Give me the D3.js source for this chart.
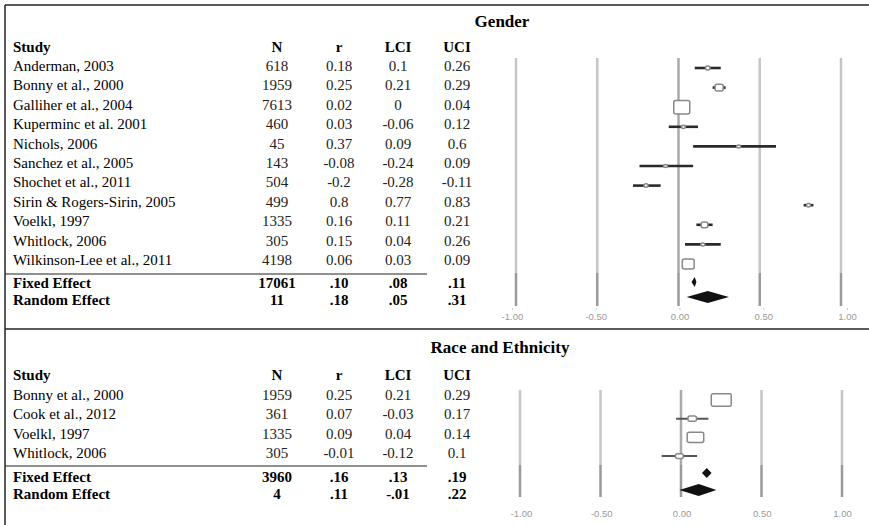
<!DOCTYPE html>
<html>
<head>
<meta charset="utf-8">
<script src="https://cdn.jsdelivr.net/npm/d3@7"></script>
<style>
  body { margin: 0; background: #fff; }
  text { font-family: "Liberation Serif", "Times New Roman", serif; }
</style>
</head>
<body>
<svg id="chart"></svg>
<script>
// ---- data ----
const columns = ["N", "r", "LCI", "UCI"];
const summaryLabels = ["Fixed Effect", "Random Effect"];
const ticks = [-1, -0.5, 0, 0.5, 1];

const genderStudies = ["Anderman, 2003", "Bonny et al., 2000", "Galliher et al., 2004",
  "Kuperminc et al. 2001", "Nichols, 2006", "Sanchez et al., 2005", "Shochet et al., 2011",
  "Sirin & Rogers-Sirin, 2005", "Voelkl, 1997", "Whitlock, 2006", "Wilkinson-Lee et al., 2011"];
const genderN = [618, 1959, 7613, 460, 45, 143, 504, 499, 1335, 305, 4198];
const genderR = [0.18, 0.25, 0.02, 0.03, 0.37, -0.08, -0.2, 0.8, 0.16, 0.15, 0.06];
const genderLCI = [0.1, 0.21, 0, -0.06, 0.09, -0.24, -0.28, 0.77, 0.11, 0.04, 0.03];
const genderUCI = [0.26, 0.29, 0.04, 0.12, 0.6, 0.09, -0.11, 0.83, 0.21, 0.26, 0.09];
const genderSumN = ["17061", "11"];
const genderSumR = [".10", ".18"];
const genderSumLCI = [".08", ".05"];
const genderSumUCI = [".11", ".31"];

const raceStudies = ["Bonny et al., 2000", "Cook et al., 2012", "Voelkl, 1997", "Whitlock, 2006"];
const raceN = [1959, 361, 1335, 305];
const raceR = [0.25, 0.07, 0.09, -0.01];
const raceLCI = [0.21, -0.03, 0.04, -0.12];
const raceUCI = [0.29, 0.17, 0.14, 0.1];
const raceSumN = ["3960", "4"];
const raceSumR = [".16", ".11"];
const raceSumLCI = [".13", "-.01"];
const raceSumUCI = [".19", ".22"];

const width = 869, height = 525;
const colX = [277, 339, 398, 457]; // centres of N, r, LCI, UCI
const studyX = 13;

const svg = d3.select("#chart").attr("width", width).attr("height", height);

// frame lines
function rule(x1, y1, x2, y2, w) {
  svg.append("line")
    .attr("x1", x1).attr("y1", y1).attr("x2", x2).attr("y2", y2)
    .attr("stroke", "#222").attr("stroke-width", w);
}
rule(5, 5, width, 5, 1.5);
rule(5, 5, 5, height, 1.5);
rule(5, 329, width, 329, 1.5);

function drawPanel(p) {
  const g = svg.append("g");

  // title + header
  g.append("text").attr("x", p.titleX).attr("y", p.titleY)
    .attr("text-anchor", "middle").attr("font-weight", "bold").attr("font-size", 17)
    .text(p.title);
  g.append("text").attr("x", studyX).attr("y", p.headerY)
    .attr("font-weight", "bold").attr("font-size", 15).text("Study");
  columns.forEach((c, j) => {
    g.append("text").attr("x", colX[j]).attr("y", p.headerY)
      .attr("text-anchor", "middle").attr("font-weight", "bold").attr("font-size", 15)
      .text(c);
  });

  // study rows (table)
  const textY = i => p.textTop + i * p.textStep + 5;
  p.studies.forEach((s, i) => {
    const vals = [p.n[i], p.r[i], p.lci[i], p.uci[i]];
    g.append("text").attr("x", studyX).attr("y", textY(i)).attr("font-size", 15).text(s);
    vals.forEach((v, j) => {
      g.append("text").attr("x", colX[j]).attr("y", textY(i))
        .attr("text-anchor", "middle").attr("font-size", 15).attr("fill", "#222")
        .text(String(v));
    });
  });

  rule(5, p.lineY, 427, p.lineY, 1.2);

  // summary rows
  summaryLabels.forEach((s, i) => {
    const y = p.sumTextY[i];
    const vals = [p.sumN[i], p.sumR[i], p.sumLCI[i], p.sumUCI[i]];
    g.append("text").attr("x", studyX).attr("y", y)
      .attr("font-weight", "bold").attr("font-size", 15).text(s);
    vals.forEach((v, j) => {
      g.append("text").attr("x", colX[j]).attr("y", y)
        .attr("text-anchor", "middle").attr("font-weight", "bold").attr("font-size", 15)
        .text(v);
    });
  });

  // forest plot
  const x = d3.scaleLinear().domain([-1, 1]).range(p.xRange);

  // grid: light part behind the studies, darker part behind the summaries
  g.selectAll(".gridTop").data(ticks).enter().append("line")
    .attr("x1", d => x(d)).attr("x2", d => x(d))
    .attr("y1", p.gridTop).attr("y2", p.gridSplit)
    .attr("stroke", d => d === 0 ? "#aaa" : "#c6c6c6").attr("stroke-width", 2.5);
  g.selectAll(".gridBot").data(ticks).enter().append("line")
    .attr("x1", d => x(d)).attr("x2", d => x(d))
    .attr("y1", p.gridSplit).attr("y2", p.gridBottom)
    .attr("stroke", "#9a9a9a").attr("stroke-width", 2.5);

  const markY = i => p.markTop + i * p.markStep;
  const box = d3.scaleSqrt().domain([0, d3.max(p.n)]).range([0, p.maxBox]);

  // CI lines
  g.selectAll(".ci").data(p.studies).enter().append("line")
    .attr("x1", (d, i) => x(p.lci[i])).attr("x2", (d, i) => x(p.uci[i]))
    .attr("y1", (d, i) => markY(i)).attr("y2", (d, i) => markY(i))
    .attr("stroke", p.ciColor).attr("stroke-width", p.ciWidth);

  // weight boxes
  g.selectAll(".box").data(p.studies).enter().append("rect")
    .attr("width", (d, i) => Math.max(4, box(p.n[i])))
    .attr("height", (d, i) => Math.max(3, box(p.n[i]) * p.boxAspect))
    .attr("x", (d, i) => x(p.r[i]) - Math.max(4, box(p.n[i])) / 2)
    .attr("y", (d, i) => markY(i) - Math.max(3, box(p.n[i]) * p.boxAspect) / 2)
    .attr("rx", 2)
    .attr("fill", "#fff").attr("stroke", "#888").attr("stroke-width", 1.5);

  // summary diamonds
  summaryLabels.forEach((s, i) => {
    const y = p.sumMarkY[i], h = p.diamondH[i] / 2;
    const pts = [[x(+p.sumLCI[i]), y], [x(+p.sumR[i]), y - h],
                 [x(+p.sumUCI[i]), y], [x(+p.sumR[i]), y + h]];
    g.append("path").attr("d", d3.line()(pts) + "Z").attr("fill", "#111");
  });

  // axis labels
  const ax = d3.scaleLinear().domain([-1, 1]).range(p.axisRange);
  const axis = g.append("g")
    .attr("transform", "translate(0," + p.axisY + ")")
    .call(d3.axisBottom(ax).tickValues(ticks).tickSize(p.tickSize)
      .tickFormat(d => d.toFixed(2)));
  axis.select(".domain").remove();
  axis.selectAll(".tick line").attr("stroke", "#ccc");
  axis.selectAll(".tick text")
    .style("font-family", "'Liberation Sans', Arial, sans-serif")
    .attr("font-size", 9.5).attr("fill", "#999");
}

drawPanel({
  title: "Gender", titleX: 502, titleY: 27, headerY: 52,
  studies: genderStudies, n: genderN, r: genderR, lci: genderLCI, uci: genderUCI,
  sumN: genderSumN, sumR: genderSumR, sumLCI: genderSumLCI, sumUCI: genderSumUCI,
  textTop: 66, textStep: 19.4, lineY: 274, sumTextY: [288, 305],
  markTop: 68, markStep: 19.6, sumMarkY: [282, 297], diamondH: [10, 12],
  xRange: [516, 841], gridTop: 58, gridSplit: 273, gridBottom: 306,
  axisRange: [512, 847], axisY: 308, tickSize: 2,
  maxBox: 16, boxAspect: 0.85, ciColor: "#2a2a2a", ciWidth: 2.6
});

drawPanel({
  title: "Race and Ethnicity", titleX: 500, titleY: 353, headerY: 380,
  studies: raceStudies, n: raceN, r: raceR, lci: raceLCI, uci: raceUCI,
  sumN: raceSumN, sumR: raceSumR, sumLCI: raceSumLCI, sumUCI: raceSumUCI,
  textTop: 395, textStep: 19.3, lineY: 466, sumTextY: [482, 499],
  markTop: 400, markStep: 18.7, sumMarkY: [473, 490], diamondH: [10, 12],
  xRange: [520, 842], gridTop: 390, gridSplit: 465, gridBottom: 497,
  axisRange: [521, 842], axisY: 507, tickSize: 0,
  maxBox: 20, boxAspect: 0.62, ciColor: "#555", ciWidth: 2
});
</script>
</body>
</html>
